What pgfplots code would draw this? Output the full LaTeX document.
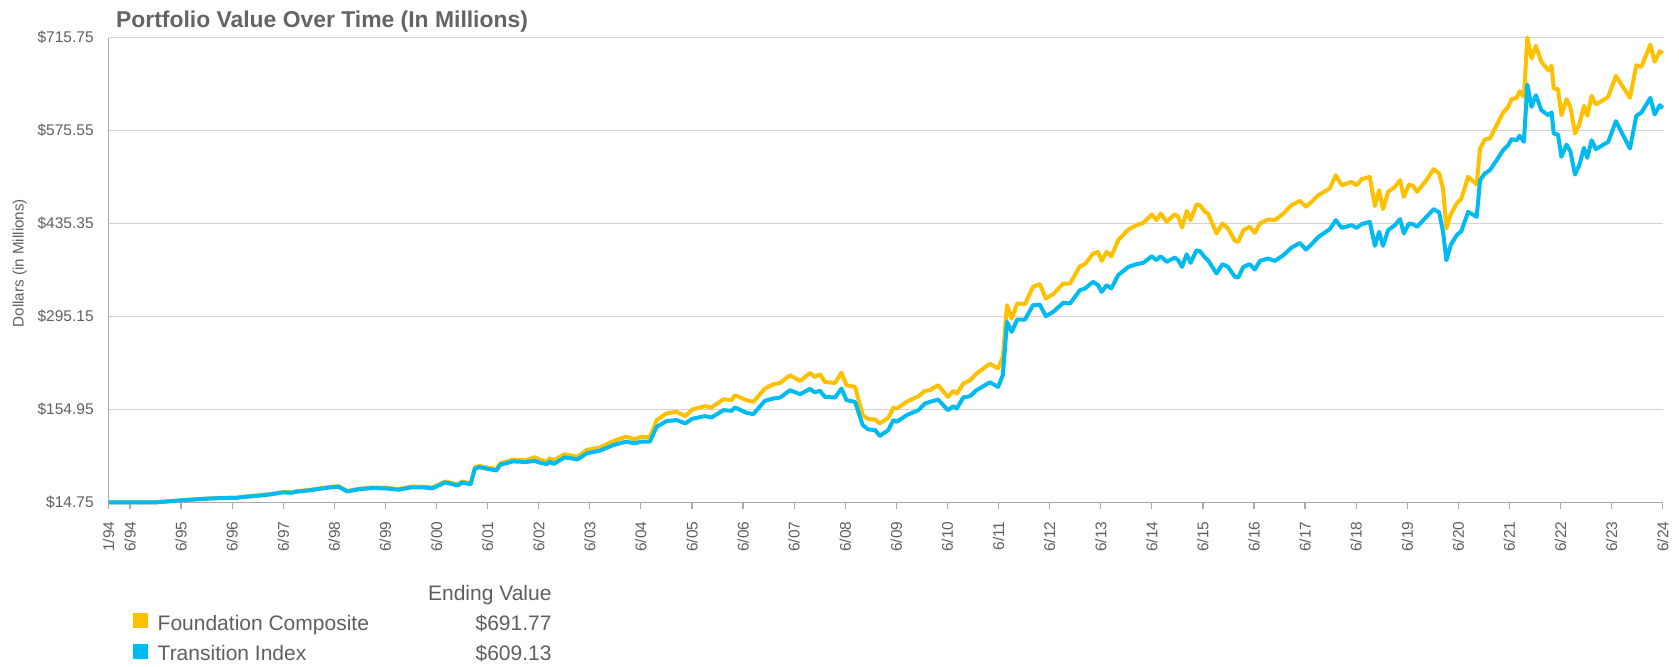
\documentclass[border=0pt]{standalone}
\usepackage{pgfplots}
\pgfplotsset{compat=1.18}
\usepackage{pgfplotstable}
\usepackage{fontspec}
\setmainfont{Liberation Sans}
\definecolor{gold}{RGB}{255,192,0}
\definecolor{sky}{RGB}{0,186,242}
\definecolor{txt}{RGB}{95,95,95}
\definecolor{titlec}{RGB}{100,100,100}
\definecolor{gridc}{RGB}{210,210,210}
\definecolor{axc}{RGB}{170,170,170}

\pgfplotstableread{
m b g
0 15.0 15.0
2 14.9 14.9
5 14.8 14.8
8 14.9 14.9
11 14.9 15.0
14 16.5 16.6
17 18.0 18.1
20 19.3 19.5
23 20.5 20.7
26 21.3 21.5
28 21.6 21.9
30 21.8 22.1
32 23.3 23.6
35 25.0 25.4
38 27.0 27.5
41 30.0 30.6
43 29.5 30.1
44 31.0 31.6
47 33.0 33.7
50 35.8 36.5
52 37.5 38.3
54 38.5 39.4
56 31.4 32.2
59 35.0 35.8
62 36.5 37.4
65 36.0 37.0
68 34.0 35.0
71 37.5 38.6
74 37.5 38.6
76 36.0 37.2
79 45.0 46.5
82 40.5 42.0
83 45.0 46.5
85 42.0 43.5
86 65.7 67.7
87 68.0 70.0
91 63.0 65.0
92 71.7 74.0
95 76.8 79.3
98 75.8 78.3
100 77.5 83.0
101.5 74.5 79.0
103 72.5 76.0
103.5 76.5 81.5
104.5 72.8 78.5
107.1 82.8 87.4
110.1 79.8 83.8
112.3 88.9 93.9
115.4 92.9 97.9
118.5 101.4 107.4
121.5 106.4 113.9
123.6 104.0 110.0
125 106.4 113.9
127.1 106.4 113.0
128.7 128.9 138.9
131 137.4 149.0
133.4 139.0 151.4
135.4 134.0 145.0
137.1 141.0 155.0
140 145.0 160.0
141.6 143.0 158.0
144.4 154.0 170.5
146.3 153.0 169.0
147.1 158.0 176.5
149.8 150.0 169.0
151.4 148.0 166.5
154.1 168.0 186.5
156.1 171.5 193.0
157.7 173.0 195.0
160 184.0 206.5
162.4 178.0 198.0
164.7 186.0 210.0
165.8 181.0 204.0
167.1 183.0 208.0
168.2 174.0 196.5
170.6 173.0 195.0
172.1 186.5 210.5
173.3 169.0 191.5
175.3 166.5 189.0
177.1 131.4 146.4
178.4 124.9 140.4
180 124.0 140.0
181.1 115.0 134.0
183.1 124.0 142.4
184.3 139.0 158.0
185.1 136.4 156.4
187.4 146.4 166.5
190.2 154.0 175.0
191.7 164.0 183.0
192.9 166.5 184.1
194.8 170.0 191.6
197.1 154.0 174.0
198.4 160.0 183.0
199.2 156.4 179.0
200.7 173.0 194.0
202.3 175.0 199.0
203.8 184.0 209.0
207 196.0 224.0
208.9 189.0 216.8
210 206.7 234.3
211 287.0 312.2
212.1 272.0 292.0
213.4 290.6 314.8
215.2 290.6 313.8
217.1 312.2 339.9
218.7 313.2 343.9
220.1 295.6 322.3
221.8 302.0 328.8
224.2 315.8 344.9
225.8 314.8 344.9
228.1 334.8 371.0
229.3 337.4 374.0
231.2 347.4 390.0
232.4 342.4 392.6
233.2 332.3 379.0
234.4 342.4 392.6
235.5 337.4 386.0
237.1 357.5 410.2
239.5 370.0 426.3
241.4 374.0 432.8
243 376.0 436.4
245 386.0 448.9
246.1 380.0 440.4
247.1 386.0 450.4
248.5 377.6 437.9
250.4 384.0 449.4
251.2 380.0 445.4
252.1 370.0 429.3
253.2 389.0 454.4
254.1 376.0 440.4
255.5 395.0 464.0
256.3 393.6 463.0
257.5 384.0 452.9
258.2 380.0 450.4
260.2 360.0 420.3
261.6 374.0 435.4
262.9 370.0 427.8
264.5 355.0 409.2
265.3 354.0 407.7
266.5 370.0 425.3
268 374.0 430.3
269.2 366.0 421.3
270.4 379.0 435.4
272.3 382.6 441.4
273.9 379.0 440.4
275.9 387.6 450.4
277.8 399.0 463.0
279.8 406.0 469.5
281.2 396.0 460.5
282.5 404.0 468.0
284.1 415.0 478.0
286.8 426.8 488.1
288.2 440.4 508.2
289.6 428.8 493.1
291.9 432.8 498.0
293.1 428.8 493.1
294.3 434.4 502.2
296.2 437.9 505.7
297.4 401.7 461.5
298.4 422.8 485.6
299.3 401.7 457.0
300.5 425.3 483.1
302.1 432.8 490.6
303.3 441.9 500.7
304.2 420.3 475.5
305.4 435.4 494.1
306.4 434.4 492.1
307.3 430.3 483.1
309.5 445.4 500.7
311.2 457.0 517.3
312.5 452.0 510.7
313.4 422.8 488.1
314.2 380.0 427.8
315.2 402.7 448.9
316.6 417.8 465.5
317.7 423.8 473.1
319.3 452.9 505.7
321.3 445.4 494.1
322.1 500.7 548.4
323.2 510.7 562.0
324.4 515.8 563.5
326 530.8 583.6
327.5 545.9 602.7
328.7 553.4 611.2
329.5 562.5 622.8
330.7 560.9 624.8
331.4 567.5 634.8
332.4 558.5 626.3
333.2 644.9 715.75
334.2 611.2 684.1
335.2 628.8 703.2
336.5 606.2 679.1
338.1 598.7 666.5
338.9 602.7 673.0
339.4 571.0 638.9
340.4 569.5 637.9
341.2 535.9 598.7
342.4 554.4 622.8
343.3 544.4 611.2
344.4 509.2 571.0
345.4 523.3 584.6
346.5 549.4 612.7
347.3 534.4 597.7
348.3 560.9 627.8
349.3 547.4 614.8
350.6 552.4 619.8
352.2 558.5 626.3
354 589.6 658.0
357.3 548.4 624.8
358.8 597.7 674.0
360 602.7 671.5
362.1 624.8 705.2
363.1 599.7 679.1
364.3 613.7 695.1
365 609.13 691.77
}\portfolio

\begin{document}
\begin{tikzpicture}
\useasboundingbox (-54.35pt,-81.75pt) rectangle (785.15pt,251.25pt);
\begin{axis}[
  at={(0pt,0pt)}, anchor=south west,
  scale only axis, width=777pt, height=232.5pt,
  xmin=0, xmax=365, ymin=14.75, ymax=715.75,
  clip=false,
  axis x line=bottom, axis y line=left,
  axis line style={-, draw=axc, line width=0.6pt},
  ymajorgrids, grid style={draw=gridc, line width=0.6pt},
  ytick={14.75,154.95,295.15,435.35,575.55,715.75},
  yticklabels={\$14.75,\$154.95,\$295.15,\$435.35,\$575.55,\$715.75},
  ytick style={draw=none},
  yticklabel style={font=\fontsize{7.75}{9}\selectfont, text=txt, xshift=-1pt},
  xtick={0,5,17,29,41,53,65,77,89,101,113,125,137,149,161,173,185,197,209,221,233,245,257,269,281,293,305,317,329,341,353,365},
  xticklabels={1/94,6/94,6/95,6/96,6/97,6/98,6/99,6/00,6/01,6/02,6/03,6/04,6/05,6/06,6/07,6/08,6/09,6/10,6/11,6/12,6/13,6/14,6/15,6/16,6/17,6/18,6/19,6/20,6/21,6/22,6/23,6/24},
  tick align=outside, major tick length=3pt,
  xtick style={draw=axc, line width=0.6pt},
  xticklabel style={rotate=90, anchor=east, font=\fontsize{7.75}{9}\selectfont, text=txt, xshift=-3pt},
]
\addplot[gold, line width=2pt, line join=round] table[x=m, y=g] {\portfolio};
\addplot[sky, line width=2pt, line join=round] table[x=m, y=b] {\portfolio};
\end{axis}
\begin{scope}[every node/.style={inner sep=0pt, text=txt}]
\node[anchor=base west, font=\fontsize{11.45}{13}\selectfont\bfseries, text=titlec] at (3.5pt,237.5pt) {Portfolio Value Over Time (In Millions)};
\node[rotate=90, font=\fontsize{7.6}{9}\selectfont] at (-44.5pt,119.7pt) {Dollars (in Millions)};
\node[anchor=base east, font=\fontsize{10.5}{12}\selectfont] at (221.6pt,-49.1pt) {Ending Value};
\fill[gold] (12pt,-55.1pt) rectangle (19.5pt,-62.9pt);
\node[anchor=base west, font=\fontsize{10.5}{12}\selectfont] at (24.3pt,-64.1pt) {Foundation Composite};
\node[anchor=base east, font=\fontsize{10.5}{12}\selectfont] at (221.6pt,-64.1pt) {\$691.77};
\fill[sky] (12pt,-70.8pt) rectangle (19.5pt,-78.4pt);
\node[anchor=base west, font=\fontsize{10.5}{12}\selectfont] at (24.3pt,-79.1pt) {Transition Index};
\node[anchor=base east, font=\fontsize{10.5}{12}\selectfont] at (221.6pt,-79.1pt) {\$609.13};
\end{scope}
\end{tikzpicture}
\end{document}
